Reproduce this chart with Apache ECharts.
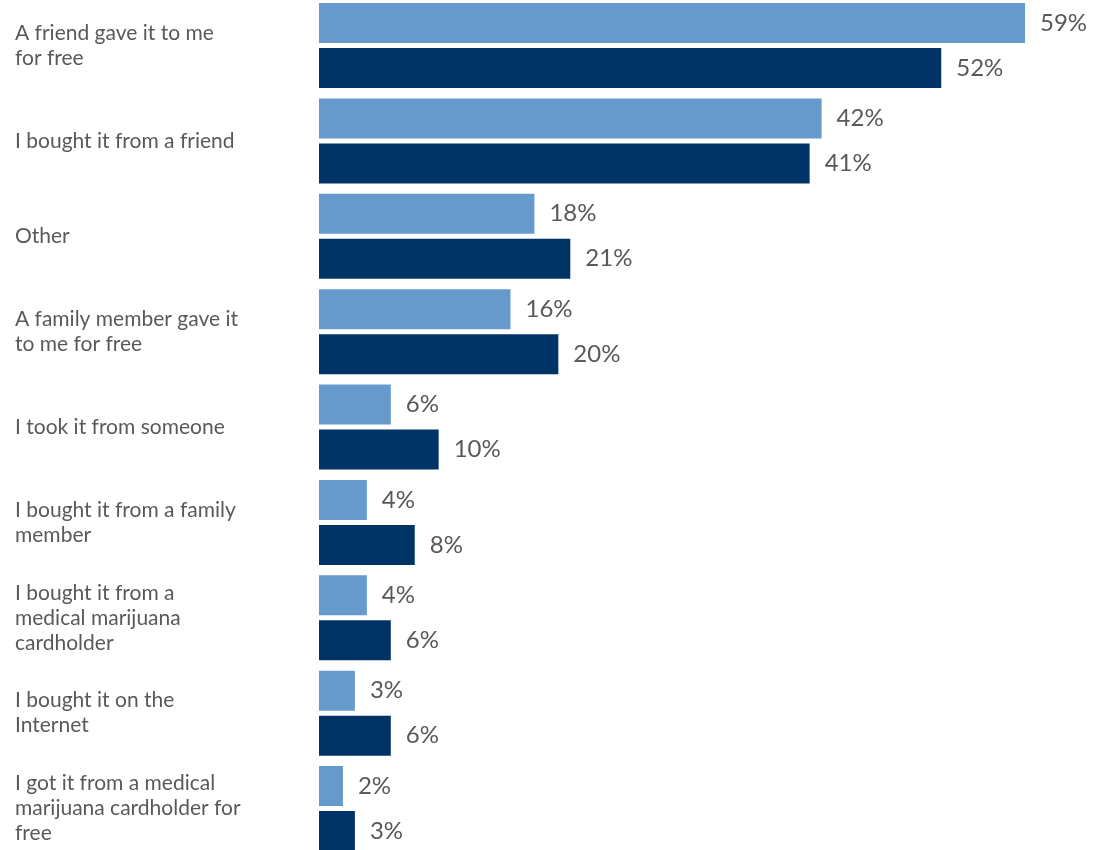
<!DOCTYPE html>
<html>
<head>
<meta charset="utf-8">
<script src="https://cdn.jsdelivr.net/npm/echarts@6/dist/echarts.min.js"></script>
<style>html,body{margin:0;padding:0;background:#fff;}#c{width:1093px;height:850px;}</style>
</head>
<body>
<div id="c"></div>
<script>
const categories = [
  "A friend gave it to me\nfor free",
  "I bought it from a friend",
  "Other",
  "A family member gave it\nto me for free",
  "I took it from someone",
  "I bought it from a family\nmember",
  "I bought it from a\nmedical marijuana\ncardholder",
  "I bought it on the\nInternet",
  "I got it from a medical\nmarijuana cardholder for\nfree"
];
const seriesLight = [59, 42, 18, 16, 6, 4, 4, 3, 2];
const seriesDark = [52, 41, 21, 20, 10, 8, 6, 6, 3];

const chart = echarts.init(document.getElementById('c'), null, {renderer: 'canvas'});
const FONT = 'Lato, "Open Sans", sans-serif';
const labelCfg = {
  show: true, position: 'right', distance: 15,
  formatter: p => p.value + '%',
  color: '#595959', fontSize: 24, fontFamily: FONT
};
chart.setOption({
  animation: false,
  backgroundColor: '#ffffff',
  grid: {left: 319, right: 56, top: 45.5, bottom: 41.5, containLabel: false},
  xAxis: {type: 'value', min: 0, max: 60, show: false},
  yAxis: {
    type: 'category', data: categories, inverse: true, boundaryGap: false,
    axisLine: {show: false}, axisTick: {show: false}, splitLine: {show: false},
    axisLabel: {
      align: 'left', margin: 304, color: '#595959',
      fontSize: 21, lineHeight: 25, fontFamily: FONT
    }
  },
  series: [
    {type: 'bar', data: seriesLight, barWidth: 40, barGap: '12.5%', clip: false,
     itemStyle: {color: '#6699cc'}, label: labelCfg},
    {type: 'bar', data: seriesDark, barWidth: 40, barGap: '12.5%', clip: false,
     itemStyle: {color: '#003366'}, label: labelCfg}
  ]
});
</script>
</body>
</html>
